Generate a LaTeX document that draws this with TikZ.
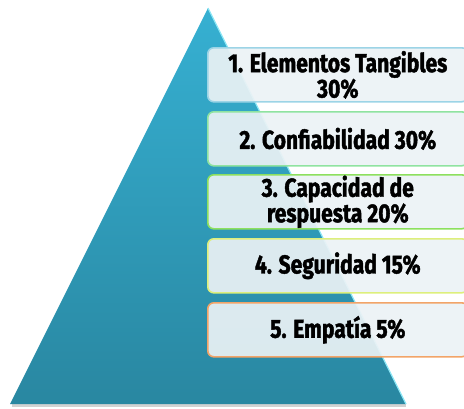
\documentclass[tikz,border=0pt]{standalone}
\usepackage{fontspec}
\setmainfont{Fira Sans}[FakeStretch=0.81, BoldFeatures={FakeBold=1.6}]

\begin{document}
\begin{tikzpicture}[
    x=1pt, y=-1pt,
    font=\bfseries\fontsize{26}{21}\selectfont,
    level/.style={draw, line width=1.6pt, rounded corners=6pt, fill=vbox,
        fill opacity=0.92, text opacity=1, minimum width=260pt,
        minimum height=54pt, align=center, anchor=north west,
        inner sep=0pt}
]

\definecolor{vtop}{HTML}{36B0D2}
\definecolor{vbottom}{HTML}{2987A1}
\definecolor{vedge}{HTML}{8BE6F5}
\definecolor{vbox}{HTML}{EBF2F5}
\definecolor{vblue}{HTML}{9CD4E6}
\definecolor{vmint}{HTML}{8FE3A0}
\definecolor{vgreen}{HTML}{8DE05E}
\definecolor{vlime}{HTML}{DDEF7C}
\definecolor{vorange}{HTML}{F2A468}

\useasboundingbox (0, 0) rectangle (464, 408);

% ==========================================
% 1. PYRAMID
% ==========================================

\coordinate (apex) at (208, 8);
\coordinate (left) at (10, 404);
\coordinate (right) at (406, 404);

\fill[gray!35] (12, 404) rectangle (406, 407);
\shade[top color=vtop, bottom color=vbottom] (apex) -- (right) -- (left) -- cycle;
\draw[vedge, line width=1.2pt] (apex) -- (right);

% ==========================================
% 2. LEVEL BOXES
% ==========================================

\node[level, draw=vblue] (e1) at (207, 47) {1. Elementos Tangibles\\30\%};
\node[level, draw=vmint] (e2) at (207, 111) {2. Confiabilidad 30\%};
\node[level, draw=vgreen] (e3) at (207, 174) {3. Capacidad de\\respuesta 20\%};
\node[level, draw=vlime] (e4) at (207, 238) {4. Seguridad 15\%};
\node[level, draw=vorange] (e5) at (207, 302) {5. Empatía 5\%};

\end{tikzpicture}
\end{document}
